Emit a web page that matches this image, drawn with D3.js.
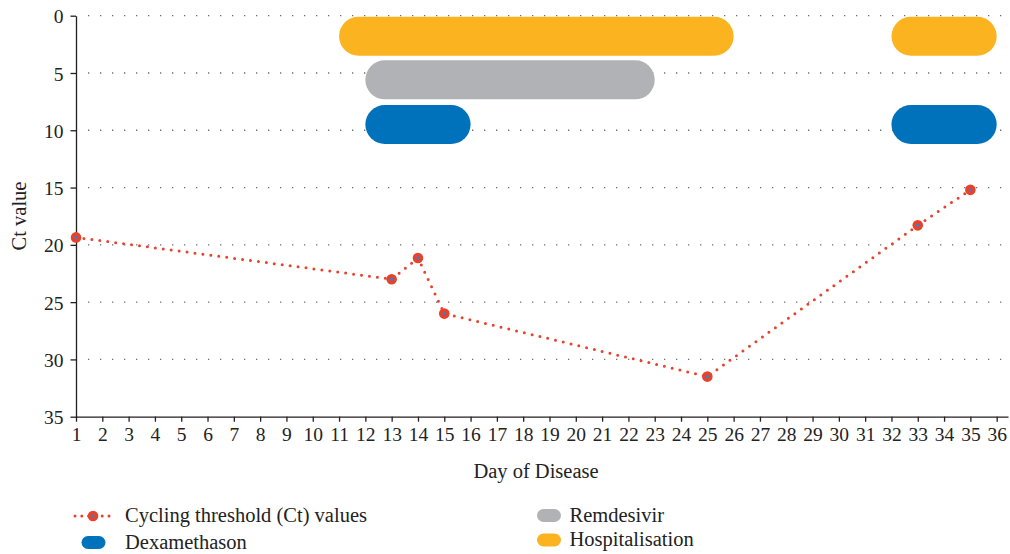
<!DOCTYPE html>
<html>
<head>
<meta charset="utf-8">
<script src="https://cdn.jsdelivr.net/npm/d3@7"></script>
<style>
  body { margin: 0; background: #fff; }
  svg text { font-family: "Liberation Serif", "DejaVu Serif", serif; fill: #222; }
</style>
</head>
<body>
<svg id="chart" width="1010" height="554"></svg>
<script>
// Ct values by day of disease
var days = [1, 13, 14, 15, 25, 33, 35];
var ctValues = [19.35, 23.0, 21.15, 26.0, 31.5, 18.3, 15.2];

// treatment / hospital periods (start day, end day, row centre on the Ct axis)
var treatNames = ["Hospitalisation", "Remdesivir", "Dexamethason"];
var treatColors = ["#fbb41f", "#b1b2b5", "#0072bc"];
var treatRows = [1.8, 5.6, 9.5];
var treatPeriods = [
  [[11, 26], [32, 36]],
  [[12, 23]],
  [[12, 16], [32, 36]]
];

var yTicks = [0, 5, 10, 15, 20, 25, 30, 35];
var xTicks = d3.range(1, 37);

var svg = d3.select("#chart");
var x = d3.scaleLinear().domain([1, 36.43]).range([76, 1008]);
var y = d3.scaleLinear().domain([0, 35]).range([15.7, 416.7]);
var barH = 39;
var red = "#e8412c";
var labelSize = 20.5;

// dotted grid
svg.append("g")
  .selectAll("line")
  .data(yTicks.slice(0, -1))
  .enter().append("line")
  .attr("x1", x(1) + 12).attr("x2", x.range()[1])
  .attr("y1", function(d) { return y(d); })
  .attr("y2", function(d) { return y(d); })
  .attr("stroke", "#6d6e71")
  .attr("stroke-width", 1.3)
  .attr("stroke-dasharray", "1.3 10.7");

// treatment bars
treatNames.forEach(function(name, i) {
  svg.append("g")
    .selectAll("rect")
    .data(treatPeriods[i])
    .enter().append("rect")
    .attr("x", function(d) { return x(d[0]); })
    .attr("width", function(d) { return x(d[1]) - x(d[0]); })
    .attr("y", y(treatRows[i]) - barH / 2)
    .attr("height", barH)
    .attr("rx", barH / 2)
    .attr("fill", treatColors[i]);
});

// axes
var yAxis = svg.append("g")
  .attr("transform", "translate(" + x(1) + ",0)")
  .call(d3.axisLeft(y).tickValues(yTicks).tickSize(5.5).tickSizeOuter(0).tickPadding(7));
var xAxis = svg.append("g")
  .attr("transform", "translate(0," + y(35) + ")")
  .call(d3.axisBottom(x).tickValues(xTicks).tickSize(5).tickSizeOuter(0).tickPadding(5));
[xAxis, yAxis].forEach(function(a) {
  a.selectAll("path, line").attr("stroke", "#231f20").attr("stroke-width", 1.3);
  a.selectAll("text").attr("font-size", 19.5).attr("font-family", "Liberation Serif").attr("fill", "#222");
});
yAxis.selectAll("text").attr("dy", "0.36em");

svg.append("text")
  .attr("transform", "translate(26,216) rotate(-90)")
  .attr("text-anchor", "middle")
  .attr("font-size", labelSize)
  .text("Ct value");
svg.append("text")
  .attr("x", 536).attr("y", 478)
  .attr("text-anchor", "middle")
  .attr("font-size", labelSize)
  .text("Day of Disease");

// Ct line
var pts = days.map(function(d, i) { return [d, ctValues[i]]; });
var line = d3.line()
  .x(function(d) { return x(d[0]); })
  .y(function(d) { return y(d[1]); });
svg.append("path")
  .datum(pts)
  .attr("d", line)
  .attr("fill", "none")
  .attr("stroke", red)
  .attr("stroke-width", 3)
  .attr("stroke-linecap", "round")
  .attr("stroke-dasharray", "0 8");

function marker(g, cx, cy) {
  g.append("circle").attr("cx", cx).attr("cy", cy).attr("r", 5.3).attr("fill", red);
  g.append("circle").attr("cx", cx).attr("cy", cy).attr("r", 1.6).attr("fill", "#2e86c8");
}
var mg = svg.append("g");
pts.forEach(function(p) { marker(mg, x(p[0]), y(p[1])); });

// legend
var lg = svg.append("g");
lg.append("line")
  .attr("x1", 75).attr("x2", 110).attr("y1", 516).attr("y2", 516)
  .attr("stroke", red).attr("stroke-width", 3)
  .attr("stroke-linecap", "round").attr("stroke-dasharray", "0 6.8");
marker(lg, 93, 516);
lg.append("text").attr("x", 125).attr("y", 522).attr("font-size", labelSize).text("Cycling threshold (Ct) values");

var legendItems = [
  { name: "Dexamethason", color: treatColors[2], x: 81.5, y: 542.5, tx: 125 },
  { name: "Remdesivir", color: treatColors[1], x: 537, y: 515.5, tx: 569.5 },
  { name: "Hospitalisation", color: treatColors[0], x: 537, y: 540, tx: 569.5 }
];
legendItems.forEach(function(d) {
  lg.append("rect")
    .attr("x", d.x).attr("y", d.y - 6.5)
    .attr("width", 24).attr("height", 13).attr("rx", 6.5)
    .attr("fill", d.color);
  lg.append("text").attr("x", d.tx).attr("y", d.y + 6).attr("font-size", labelSize).text(d.name);
});
</script>
</body>
</html>
